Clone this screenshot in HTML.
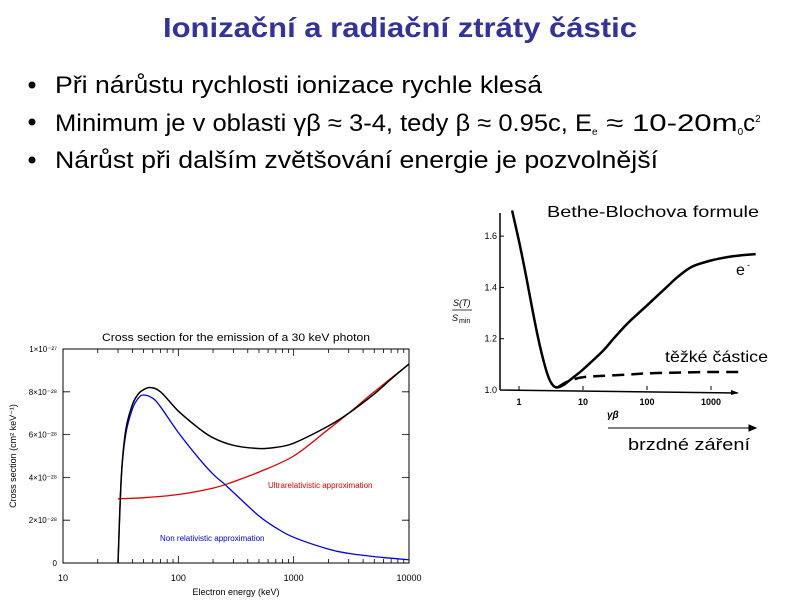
<!DOCTYPE html>
<html><head><meta charset="utf-8"><style>
html,body{margin:0;padding:0;background:#fff;}
svg{display:block;font-family:"Liberation Sans",sans-serif;}
</style></head><body>
<svg id="s" width="800" height="600" viewBox="0 0 800 600">
<text x="400" y="37" text-anchor="middle" font-size="28" font-weight="bold" fill="#333399" textLength="474" lengthAdjust="spacingAndGlyphs">Ionizační a radiační ztráty částic</text>
<g font-size="24" fill="#000">
<circle cx="32" cy="85" r="3.5"/>
<text x="55" y="93" textLength="487" lengthAdjust="spacingAndGlyphs">Při nárůstu rychlosti ionizace rychle klesá</text>
<circle cx="32" cy="122" r="3.5"/>
<text x="55" y="131"><tspan textLength="537" lengthAdjust="spacingAndGlyphs">Minimum je v oblasti γβ ≈ 3-4, tedy β ≈ 0.95c, E</tspan><tspan font-size="10" dy="4">e</tspan><tspan dy="-4" textLength="140" lengthAdjust="spacingAndGlyphs"> ≈ 10-20m</tspan><tspan font-size="10" dy="4">0</tspan><tspan dy="-4">c</tspan><tspan font-size="10" dy="-9">2</tspan></text>
<circle cx="32" cy="160" r="3.5"/>
<text x="55" y="168" textLength="603" lengthAdjust="spacingAndGlyphs">Nárůst při dalším zvětšování energie je pozvolnější</text>
</g>
<g id="left"></g>
<g id="right"></g>
</svg>
<script>
// ---- Left chart data (units 1e-28 cm^2 keV^-1) ----
const lxTicks = [10, 100, 1000, 10000];
const lyTicks = [0, 2, 4, 6, 8, 10];
const lyLabels = ["0", "2×10⁻²⁸", "4×10⁻²⁸", "6×10⁻²⁸", "8×10⁻²⁸", "1×10⁻²⁷"];
const totalE = [30, 32, 35, 40, 45, 50, 57, 70, 100, 150, 200, 300, 500, 700, 1000, 2000, 3000, 5000, 7000, 10000];
const totalV = [0, 4.0, 6.2, 7.4, 7.9, 8.1, 8.2, 8.0, 7.1, 6.3, 5.85, 5.5, 5.35, 5.4, 5.6, 6.4, 7.0, 7.9, 8.6, 9.3];
const nonrelE = [30, 32, 35, 40, 45, 50, 60, 70, 100, 150, 200, 250, 300, 500, 700, 1000, 2000, 3000, 5000, 10000];
const nonrelV = [0, 4.0, 6.0, 7.2, 7.7, 7.85, 7.7, 7.3, 6.1, 4.9, 4.15, 3.7, 3.3, 2.2, 1.65, 1.2, 0.65, 0.45, 0.3, 0.15];
const ultraE = [30, 50, 100, 200, 300, 500, 1000, 2000, 3000, 5000, 10000];
const ultraV = [3.0, 3.05, 3.2, 3.5, 3.8, 4.25, 5.0, 6.25, 7.0, 8.0, 9.3];
// ---- Right chart data ----
const rxTicks = [1, 10, 100, 1000];
const ryTicks = [1.0, 1.2, 1.4, 1.6];
const eGB = [0.78, 1, 1.3, 1.6, 2, 2.5, 3, 3.5, 4, 5, 6, 8, 10, 20, 30, 50, 100, 200, 300, 500, 1000, 2000, 3000, 5000];
const eS = [1.7, 1.58, 1.44, 1.32, 1.2, 1.1, 1.04, 1.015, 1.01, 1.02, 1.035, 1.06, 1.08, 1.15, 1.2, 1.26, 1.33, 1.4, 1.44, 1.48, 1.505, 1.52, 1.525, 1.53];
const hGB = [4, 5, 6, 8, 10, 20, 50, 100, 300, 1000, 3000];
const hS = [1.01, 1.025, 1.035, 1.045, 1.05, 1.055, 1.06, 1.065, 1.068, 1.07, 1.07];

const NS = "http://www.w3.org/2000/svg";
function mk(parent, tag, attrs, txt) {
  const e = document.createElementNS(NS, tag);
  for (const k in attrs) e.setAttribute(k, attrs[k]);
  if (txt !== undefined) e.textContent = txt;
  parent.appendChild(e); return e;
}
function smooth(pts) {
  let d = 'M' + pts[0][0].toFixed(1) + ',' + pts[0][1].toFixed(1);
  for (let i = 0; i < pts.length - 1; i++) {
    const p0 = pts[Math.max(0, i - 1)], p1 = pts[i], p2 = pts[i + 1], p3 = pts[Math.min(pts.length - 1, i + 2)];
    const c1x = p1[0] + (p2[0] - p0[0]) / 6, c1y = p1[1] + (p2[1] - p0[1]) / 6;
    const c2x = p2[0] - (p3[0] - p1[0]) / 6, c2y = p2[1] - (p3[1] - p1[1]) / 6;
    d += `C${c1x.toFixed(1)},${c1y.toFixed(1)} ${c2x.toFixed(1)},${c2y.toFixed(1)} ${p2[0].toFixed(1)},${p2[1].toFixed(1)}`;
  }
  return d;
}
// Left chart
const L = document.getElementById('left');
const lx0 = 63, lx1 = 409, ly0 = 563, ly1 = 349;
const lX = v => lx0 + (Math.log10(v) - 1) / 3 * (lx1 - lx0);
const lY = v => ly0 - v / 10 * (ly0 - ly1);
let t = mk(L, 'text', {x: 236, y: 341, 'text-anchor': 'middle', 'font-size': 11, textLength: 268, lengthAdjust: 'spacingAndGlyphs'}, 'Cross section for the emission of a 30 keV photon');


let fr = mk(L, 'rect', {x: lx0, y: ly1, width: lx1 - lx0, height: ly0 - ly1, fill: 'none', stroke: '#000', 'stroke-width': 1});


lxTicks.forEach(v => {
  const x = lX(v);
  const lb = mk(L, 'text', {x: x, y: 581, 'text-anchor': 'middle', 'font-size': 9}, String(v));
  
  
});
for (let d = 1; d < 4; d++) for (let m = 1; m <= 9; m++) {
  const v = Math.pow(10, d) * m; const x = lX(v); const len = m === 1 ? 7 : 4;
  if (m === 1 && d === 1) continue;
  const tk = mk(L, 'path', {d: `M${x},${ly0}v${-len}M${x},${ly1}v${len}`, stroke: '#000', 'stroke-width': 0.8});
  
  
}
lyTicks.forEach((v, i) => {
  const y = lY(v);
  const tk = mk(L, 'path', {d: `M${lx0},${y}h7M${lx1},${y}h-7`, stroke: '#000', 'stroke-width': 0.8});
  
  
  const lb = mk(L, 'text', {x: 57, y: y + 3, 'text-anchor': 'end', 'font-size': 8}, lyLabels[i]);
  
  
});
t = mk(L, 'text', {x: 236, y: 595, 'text-anchor': 'middle', 'font-size': 9}, 'Electron energy (keV)');


t = mk(L, 'text', {x: 0, y: 0, 'text-anchor': 'middle', 'font-size': 9, transform: 'translate(16,456) rotate(-90)'}, 'Cross section (cm² keV⁻¹)');


function lpath(xs, ys) { return smooth(xs.map((v, i) => [lX(v), lY(ys[i])])); }
let p = mk(L, 'path', {d: lpath(ultraE, ultraV), fill: 'none', stroke: '#e00000', 'stroke-width': 1.3});


p = mk(L, 'path', {d: lpath(nonrelE, nonrelV), fill: 'none', stroke: '#0000e0', 'stroke-width': 1.3});


p = mk(L, 'path', {d: lpath(totalE, totalV), fill: 'none', stroke: '#000', 'stroke-width': 1.5});


t = mk(L, 'text', {x: 268, y: 488, 'font-size': 8, fill: '#e00000'}, 'Ultrarelativistic approximation');


t = mk(L, 'text', {x: 160, y: 541, 'font-size': 8, fill: '#0000e0'}, 'Non relativistic approximation');



// Right chart
const R = document.getElementById('right');
const rxo = 500, ryo = 390;
const rX = v => 519 + Math.log10(v) * 64;
const rY = v => ryo - (v - 1) / 0.2 * 51.3;
p = mk(R, 'path', {d: `M${rxo},${ryo}V213M${rxo},${ryo}L737,${ryo + 3}`, stroke: '#000', 'stroke-width': 1.5, fill: 'none'});


p = mk(R, 'path', {d: `M731,${ryo}l8,3l-8,2z`, fill: '#000'});


rxTicks.forEach(v => {
  const x = rX(v);
  const tk = mk(R, 'path', {d: `M${x},${ryo}v-4`, stroke: '#000'});
  
  
  const lb = mk(R, 'text', {x: x, y: ryo + 15, 'text-anchor': 'middle', 'font-size': 9, 'font-weight': 'bold'}, String(v));
  
  
});
ryTicks.forEach(v => {
  const y = rY(v);
  const tk = mk(R, 'path', {d: `M${rxo},${y}h4`, stroke: '#000'});
  
  
  const lb = mk(R, 'text', {x: rxo - 3, y: y + 3, 'text-anchor': 'end', 'font-size': 9}, v.toFixed(1));
  
  
});
const ya = mk(R, 'g', {'font-size': 9, 'font-style': 'italic'});


mk(ya, 'text', {x: 453, y: 306}, 'S(T)');
mk(ya, 'path', {d: 'M452,310h20', stroke: '#000', 'stroke-width': 0.8});
mk(ya, 'text', {x: 452, y: 321}, 'S');
mk(ya, 'text', {x: 459, y: 323, 'font-size': 7, 'font-style': 'normal'}, 'min');
t = mk(R, 'text', {x: 607, y: 418, 'font-size': 10, 'font-style': 'italic', 'font-weight': 'bold'}, 'γβ');


function rpath(xs, ys) { return smooth(xs.map((v, i) => [rX(v), rY(ys[i])])); }
p = mk(R, 'path', {d: rpath(eGB, eS), fill: 'none', stroke: '#000', 'stroke-width': 2.5, 'stroke-linejoin': 'round'});


p = mk(R, 'path', {d: rpath(hGB, hS), fill: 'none', stroke: '#000', 'stroke-width': 2.5, 'stroke-dasharray': '12,7'});


t = mk(R, 'text', {x: 547, y: 217, 'font-size': 16, fill: '#000', textLength: 212, lengthAdjust: 'spacingAndGlyphs'}, 'Bethe-Blochova formule');


t = mk(R, 'text', {x: 736, y: 275, 'font-size': 16}, 'e');


mk(R, 'text', {x: 747, y: 268, 'font-size': 9}, '-');
t = mk(R, 'text', {x: 665, y: 362, 'font-size': 16, textLength: 103, lengthAdjust: 'spacingAndGlyphs'}, 'těžké částice');


p = mk(R, 'path', {d: 'M608,428H755M749,425l7,3l-7,3z', stroke: '#000', 'stroke-width': 1, fill: '#000'});


t = mk(R, 'text', {x: 628, y: 450, 'font-size': 17, textLength: 122, lengthAdjust: 'spacingAndGlyphs'}, 'brzdné záření');


</script>
</body></html>
